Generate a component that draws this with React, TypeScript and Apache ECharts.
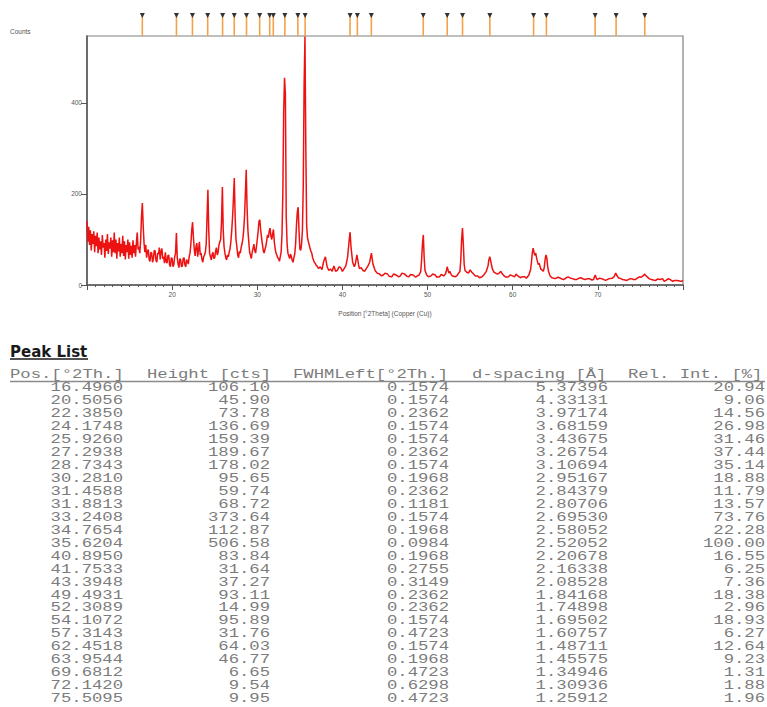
import React, { useEffect, useRef } from "react";
import * as echarts from "echarts";

// Peak list (from the table)
const peakPos = [16.496, 20.5056, 22.385, 24.1748, 25.926, 27.2938, 28.7343, 30.281, 31.4588, 31.8813, 33.2408, 34.7654, 35.6204, 40.895, 41.7533, 43.3948, 49.4931, 52.3089, 54.1072, 57.3143, 62.4518, 63.9544, 69.6812, 72.142, 75.5095];
const peakHeight = [106.1, 45.9, 73.78, 136.69, 159.39, 189.67, 178.02, 95.65, 59.74, 68.72, 373.64, 112.87, 506.58, 83.84, 31.64, 37.27, 93.11, 14.99, 95.89, 31.76, 64.03, 46.77, 6.65, 9.54, 9.95];
const peakFwhm = [0.1574, 0.1574, 0.2362, 0.1574, 0.1574, 0.2362, 0.1574, 0.1968, 0.2362, 0.1181, 0.1574, 0.1968, 0.0984, 0.1968, 0.2755, 0.3149, 0.2362, 0.2362, 0.1574, 0.4723, 0.1574, 0.1968, 0.4723, 0.6298, 0.4723];
const peakD = [5.37396, 4.33131, 3.97174, 3.68159, 3.43675, 3.26754, 3.10694, 2.95167, 2.84379, 2.80706, 2.6953, 2.58052, 2.52052, 2.20678, 2.16338, 2.08528, 1.84168, 1.74898, 1.69502, 1.60757, 1.48711, 1.45575, 1.34946, 1.30936, 1.25912];
const peakRel = [20.94, 9.06, 14.56, 26.98, 31.46, 37.44, 35.14, 18.88, 11.79, 13.57, 73.76, 22.28, 100.0, 16.55, 6.25, 7.36, 18.38, 2.96, 18.93, 6.27, 12.64, 9.23, 1.31, 1.88, 1.96];
const tableHeaders = ["Pos.[°2Th.]", "Height [cts]", "FWHMLeft[°2Th.]", "d-spacing [Å]", "Rel. Int. [%]"];

const yTicks = [0, 200, 400];

// Measured diffraction pattern [2theta, counts]
const patternLow: [number, number][] = [
  [10.0, 140], [10.1, 95], [10.2, 128], [10.3, 88], [10.4, 120], [10.5, 76], [10.6, 112], [10.7, 90], [10.8, 118], [10.9, 72],
  [11.0, 108], [11.1, 85], [11.2, 115], [11.3, 70], [11.4, 104], [11.5, 78], [11.6, 96], [11.7, 66], [11.8, 110], [11.9, 82],
  [12.0, 92], [12.1, 60], [12.2, 100], [12.3, 75], [12.4, 112], [12.5, 68], [12.6, 94], [12.7, 80], [12.8, 104], [12.9, 62],
  [13.0, 98], [13.1, 72], [13.2, 115], [13.3, 70], [13.4, 100], [13.5, 58], [13.6, 92], [13.7, 74], [13.8, 104], [13.9, 62],
  [14.0, 90], [14.1, 70], [14.2, 108], [14.3, 64], [14.4, 96], [14.5, 56], [14.6, 88], [14.7, 72], [14.8, 100], [14.9, 58],
  [15.0, 94], [15.1, 66], [15.2, 86], [15.3, 60], [15.4, 98], [15.5, 70], [15.6, 88], [15.7, 62], [15.8, 92], [15.9, 115],
  [16.0, 78], [16.1, 84], [16.2, 70], [16.3, 98], [16.4, 150], [16.5, 180], [16.6, 130], [16.7, 92], [16.8, 72], [16.9, 88],
  [17.0, 60], [17.1, 74], [17.2, 78], [17.3, 56], [17.4, 52], [17.5, 72], [17.6, 70], [17.7, 50], [17.8, 58], [17.9, 76],
  [18.0, 75], [18.1, 54], [18.2, 50], [18.3, 70], [18.4, 68], [18.5, 82], [18.6, 56], [18.7, 74], [18.8, 80], [18.9, 58],
  [19.0, 62], [19.1, 48], [19.2, 72], [19.3, 52], [19.4, 48], [19.5, 64], [19.6, 66], [19.7, 44], [19.8, 40], [19.9, 60],
];
const patternMid: [number, number][] = [
  [20.0, 58], [20.1, 40], [20.2, 45], [20.3, 62], [20.4, 70], [20.5, 114], [20.6, 60], [20.7, 46], [20.8, 38], [20.9, 58],
  [21.0, 55], [21.1, 40], [21.2, 42], [21.3, 58], [21.4, 60], [21.5, 44], [21.6, 40], [21.7, 56], [21.8, 52], [21.9, 46],
  [22.0, 62], [22.1, 70], [22.2, 90], [22.3, 120], [22.4, 138], [22.5, 105], [22.6, 78], [22.7, 64], [22.8, 84], [22.9, 92],
  [23.0, 62], [23.1, 78], [23.2, 95], [23.3, 66], [23.4, 70], [23.5, 56], [23.6, 50], [23.7, 62], [23.8, 66], [23.9, 72],
  [24.0, 90], [24.1, 150], [24.2, 209], [24.3, 120], [24.4, 70], [24.5, 62], [24.6, 55], [24.7, 68], [24.8, 72], [24.9, 58],
  [25.0, 60], [25.1, 74], [25.2, 82], [25.3, 66], [25.4, 72], [25.5, 88], [25.6, 95], [25.7, 100], [25.8, 140], [25.9, 215],
  [26.0, 120], [26.1, 84], [26.2, 70], [26.3, 60], [26.4, 55], [26.5, 66], [26.6, 62], [26.7, 72], [26.8, 80], [26.9, 96],
  [27.0, 120], [27.1, 150], [27.2, 190], [27.3, 235], [27.4, 150], [27.5, 100], [27.6, 85], [27.7, 66], [27.8, 60], [27.9, 74],
  [28.0, 70], [28.1, 82], [28.2, 90], [28.3, 100], [28.4, 120], [28.5, 150], [28.6, 200], [28.7, 253], [28.8, 170], [28.9, 120],
  [29.0, 95], [29.1, 72], [29.2, 65], [29.3, 58], [29.4, 72], [29.5, 80], [29.6, 90], [29.7, 76], [29.8, 70], [29.9, 84],
  [30.0, 100], [30.1, 118], [30.2, 140], [30.3, 143], [30.4, 120], [30.5, 104], [30.6, 90], [30.7, 76], [30.8, 70], [30.9, 78],
  [31.0, 85], [31.1, 96], [31.2, 110], [31.3, 104], [31.4, 118], [31.5, 125], [31.6, 108], [31.7, 100], [31.8, 112], [31.9, 122],
  [32.0, 95], [32.1, 80], [32.2, 70], [32.3, 66], [32.4, 60], [32.5, 58], [32.6, 52], [32.7, 62], [32.8, 72], [32.9, 110],
  [33.0, 200], [33.1, 380], [33.2, 455], [33.3, 420], [33.4, 150], [33.5, 90], [33.6, 70], [33.7, 64], [33.8, 58], [33.9, 68],
  [34.0, 62], [34.1, 54], [34.2, 50], [34.3, 60], [34.4, 68], [34.5, 90], [34.6, 130], [34.7, 160], [34.8, 171], [34.9, 120],
  [35.0, 80], [35.1, 76], [35.2, 90], [35.3, 120], [35.4, 220], [35.5, 440], [35.6, 546], [35.7, 300], [35.8, 130], [35.9, 104],
  [36.0, 95], [36.1, 88], [36.2, 80], [36.3, 74], [36.4, 70], [36.5, 60], [36.6, 55], [36.7, 50], [36.8, 48], [36.9, 44],
];
const patternHigh: [number, number][] = [
  [37.0, 42], [37.2, 36], [37.4, 40], [37.6, 34], [37.8, 52], [38.0, 62], [38.2, 40], [38.4, 32], [38.6, 35], [38.8, 30],
  [39.0, 42], [39.2, 30], [39.4, 32], [39.6, 40], [39.8, 38], [40.0, 30], [40.2, 36], [40.4, 42], [40.6, 60], [40.8, 100],
  [40.9, 116], [41.0, 85], [41.2, 50], [41.4, 40], [41.5, 45], [41.7, 66], [41.9, 44], [42.0, 36], [42.2, 38], [42.4, 32],
  [42.6, 30], [42.8, 36], [43.0, 42], [43.2, 50], [43.3, 60], [43.4, 70], [43.6, 45], [43.8, 34], [43.9, 30], [44.1, 26],
  [44.3, 25], [44.6, 20], [44.8, 22], [45.0, 26], [45.3, 24], [45.5, 19], [45.8, 18], [46.0, 24], [46.3, 22], [46.6, 18],
  [46.8, 20], [47.0, 26], [47.3, 24], [47.6, 19], [47.8, 18], [48.0, 23], [48.3, 22], [48.6, 17], [48.8, 20], [49.0, 22],
  [49.2, 30], [49.3, 55], [49.4, 90], [49.5, 110], [49.6, 60], [49.7, 32], [49.9, 22], [50.1, 18], [50.4, 20], [50.6, 24],
  [50.9, 22], [51.1, 17], [51.4, 18], [51.6, 23], [51.9, 20], [52.1, 24], [52.2, 30], [52.3, 40], [52.5, 26], [52.6, 30],
  [52.8, 22], [53.0, 19], [53.3, 18], [53.5, 22], [53.8, 30], [53.9, 55], [54.0, 100], [54.1, 125], [54.2, 90], [54.3, 45],
  [54.4, 32], [54.6, 28], [54.8, 26], [55.0, 33], [55.2, 28], [55.4, 24], [55.6, 20], [55.9, 20], [56.1, 16], [56.4, 18],
  [56.6, 22], [56.9, 30], [57.1, 42], [57.2, 55], [57.3, 62], [57.4, 54], [57.5, 45], [57.6, 36], [57.8, 28], [58.0, 26],
  [58.2, 24], [58.4, 26], [58.6, 30], [58.8, 24], [59.0, 20], [59.2, 17], [59.5, 18], [59.7, 22], [60.0, 20], [60.2, 18],
  [60.4, 24], [60.6, 20], [60.9, 16], [61.1, 18], [61.4, 18], [61.6, 15], [61.9, 22], [62.1, 34], [62.2, 50], [62.3, 70],
  [62.4, 81], [62.5, 72], [62.6, 65], [62.7, 70], [62.8, 60], [62.9, 52], [63.0, 45], [63.1, 48], [63.3, 35], [63.5, 32],
  [63.6, 30], [63.7, 38], [63.8, 55], [63.9, 66], [64.0, 60], [64.1, 42], [64.2, 30], [64.4, 20], [64.6, 16], [64.8, 15],
  [65.0, 14], [65.3, 17], [65.5, 16], [65.8, 13], [66.0, 12], [66.3, 16], [66.5, 18], [66.8, 15], [67.0, 14], [67.3, 12],
  [67.5, 12], [67.8, 15], [68.0, 16], [68.3, 13], [68.5, 12], [68.8, 14], [69.0, 14], [69.3, 11], [69.5, 12], [69.6, 18],
  [69.7, 22], [69.8, 16], [69.9, 12], [70.2, 15], [70.4, 14], [70.7, 12], [70.9, 10], [71.2, 13], [71.4, 14], [71.7, 15],
  [71.9, 18], [72.1, 26], [72.2, 22], [72.4, 16], [72.7, 14], [72.9, 12], [73.2, 11], [73.4, 10], [73.7, 13], [73.9, 14],
  [74.2, 12], [74.4, 12], [74.7, 16], [74.9, 18], [75.1, 17], [75.3, 20], [75.5, 24], [75.6, 21], [75.8, 18], [76.0, 14],
  [76.3, 12], [76.5, 11], [76.8, 10], [77.0, 13], [77.3, 12], [77.6, 14], [77.8, 8], [78.0, 10], [78.3, 14], [78.5, 12],
  [78.8, 8], [79.0, 10], [79.3, 10], [79.6, 9], [79.8, 8], [80.0, 10],
];

// Table layout
const colRight = [123, 270, 449, 608, 765];
const colHeaderLeft = [10, 147, 293, 472, 628];
const headerY = 375;
const firstRowY = 388;
const rowStep = 12.95;
const monoFont = '"Liberation Mono", "DejaVu Sans Mono", monospace';
const monoSize = 12.5;
const monoScale = 1.38;
const tableColor = "#7c7c7c";

function buildGraphic() {
  const els: any[] = [];
  els.push({
    type: "text", x: 10, y: 31,
    style: { text: "Counts", fontSize: 6.5, fontFamily: "Arial, Liberation Sans, sans-serif", fill: "#555", verticalAlign: "middle" },
  });
  els.push({
    type: "text", x: 10, y: 352,
    style: { text: "Peak List", fontSize: 15, fontWeight: "bold", fontFamily: "DejaVu Sans, Verdana, sans-serif", fill: "#1a1a1a", verticalAlign: "middle" },
  });
  els.push({ type: "line", shape: { x1: 10, y1: 359, x2: 88, y2: 359 }, style: { stroke: "#1a1a1a", lineWidth: 1.5 } });
  tableHeaders.forEach((h, i) => {
    els.push({
      type: "text", x: colHeaderLeft[i], y: headerY, scaleX: monoScale,
      style: { text: h, fontSize: monoSize, fontFamily: monoFont, fill: tableColor, align: "left", verticalAlign: "middle" },
    });
  });
  els.push({ type: "line", shape: { x1: 10, y1: 381.5, x2: 765, y2: 381.5 }, style: { stroke: "#8a8a8a", lineWidth: 1.5 } });
  peakPos.forEach((p, r) => {
    const cells = [p.toFixed(4), peakHeight[r].toFixed(2), peakFwhm[r].toFixed(4), peakD[r].toFixed(5), peakRel[r].toFixed(2)];
    const y = firstRowY + r * rowStep;
    cells.forEach((c, i) => {
      els.push({
        type: "text", x: colRight[i], y, scaleX: monoScale,
        style: { text: c, fontSize: monoSize, fontFamily: monoFont, fill: tableColor, align: "right", verticalAlign: "middle" },
      });
    });
  });
  return els;
}

export default function App() {
  const ref = useRef<HTMLDivElement>(null);
  useEffect(() => {
    document.body.style.margin = "0";
    const chart = echarts.init(ref.current!, undefined, { renderer: "svg" });
    const axisColor = "#555";
    const option: any = {
      animation: false,
      backgroundColor: "#ffffff",
      textStyle: { fontFamily: "Arial, Liberation Sans, sans-serif" },
      grid: [
        { left: 87, right: 84, top: 36, bottom: 422, show: true, borderColor: "#808080", borderWidth: 1.2, backgroundColor: "transparent" },
        { left: 87, right: 84, top: 10, height: 26, show: false },
      ],
      xAxis: [
        {
          type: "value", gridIndex: 0, min: 10, max: 80, interval: 10,
          name: "Position [°2Theta] (Copper (Cu))", nameLocation: "middle", nameGap: 25,
          nameTextStyle: { fontSize: 6.5, color: axisColor },
          axisLine: { show: true, onZero: false, lineStyle: { color: axisColor, width: 1.5 } },
          axisTick: { show: true, length: 5, lineStyle: { color: axisColor, width: 1 } },
          minorTick: { show: true, splitNumber: 10, length: 2, lineStyle: { color: axisColor, width: 1 } },
          axisLabel: { fontSize: 6.5, color: axisColor, margin: 6, formatter: (v: number) => (v === 10 || v === 80 ? "" : String(v)) },
          splitLine: { show: false },
        },
        { type: "value", gridIndex: 1, min: 10, max: 80, show: false },
      ],
      yAxis: [
        {
          type: "value", gridIndex: 0, min: 0, max: 547, interval: 200,
          axisLine: { show: true, lineStyle: { color: axisColor, width: 1.5 } },
          axisTick: { show: true, length: 6, customValues: yTicks, lineStyle: { color: axisColor, width: 1 } },
          axisLabel: { fontSize: 6.5, color: axisColor, margin: 5, customValues: yTicks },
          splitLine: { show: false },
        },
        { type: "value", gridIndex: 1, min: 0, max: 1, show: false },
      ],
      series: [
        {
          type: "line", xAxisIndex: 0, yAxisIndex: 0, showSymbol: false, clip: true,
          data: [...patternLow, ...patternMid, ...patternHigh],
          lineStyle: { color: "#ee1111", width: 1.5 },
        },
        {
          type: "custom", xAxisIndex: 1, yAxisIndex: 1, clip: false,
          data: peakPos.map((p) => [p, 0]),
          renderItem: (params: any, api: any) => {
            const x = api.coord([api.value(0), 0])[0];
            const cs = params.coordSys;
            const top = cs.y + 3;
            const bottom = cs.y + cs.height;
            return {
              type: "group",
              children: [
                { type: "line", shape: { x1: x, y1: top + 3, x2: x, y2: bottom }, style: { stroke: "#f2a24a", lineWidth: 1.6 } },
                { type: "polygon", shape: { points: [[x - 2.5, top], [x + 2.5, top], [x, top + 5]] }, style: { fill: "#333" } },
              ],
            };
          },
        },
      ],
      graphic: buildGraphic(),
    };
    chart.setOption(option);
    return () => chart.dispose();
  }, []);
  return <div ref={ref} style={{ width: 767, height: 707 }} />;
}
